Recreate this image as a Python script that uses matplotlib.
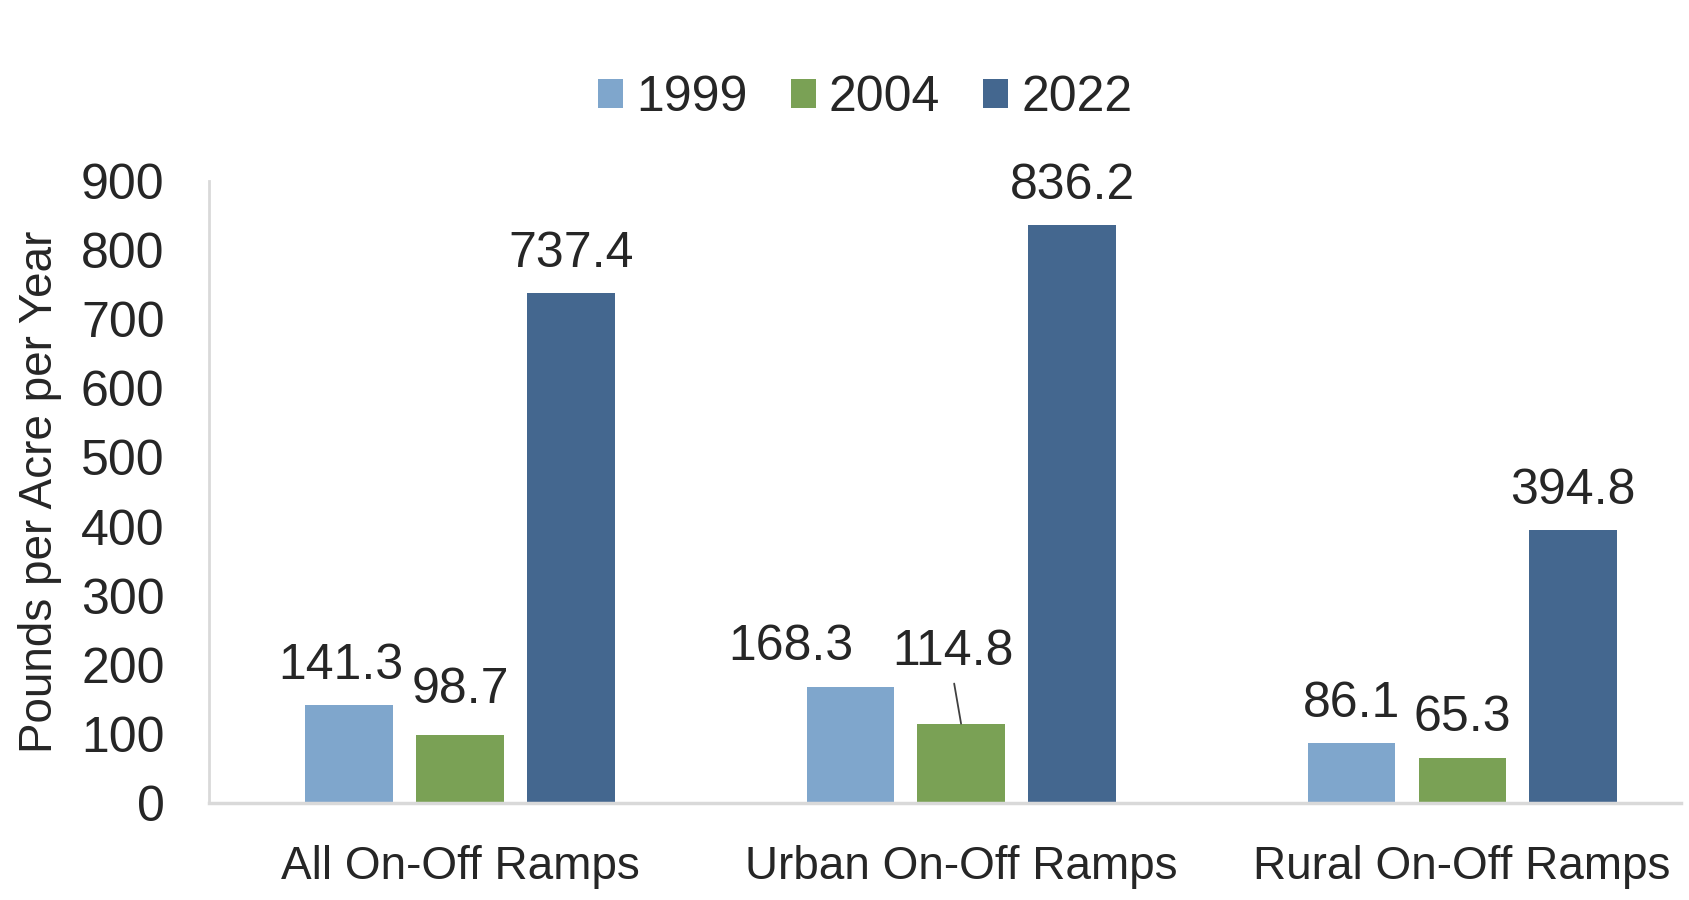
import numpy as np
import matplotlib
matplotlib.use("Agg")
import matplotlib.pyplot as plt

# data
categories = ["All On-Off Ramps", "Urban On-Off Ramps", "Rural On-Off Ramps"]
years = ["1999", "2004", "2022"]
vals_1999 = [141.3, 168.3, 86.1]
vals_2004 = [98.7, 114.8, 65.3]
vals_2022 = [737.4, 836.2, 394.8]
yticks = [0, 100, 200, 300, 400, 500, 600, 700, 800, 900]

colors = ["#7FA6CC", "#7AA155", "#44678F"]
txt = "#262626"

plt.rcParams["font.family"] = ["Liberation Sans", "DejaVu Sans"]

fig = plt.figure(figsize=(16.9, 9), dpi=100)
ax = fig.add_axes([0.1237, 0.1078, 0.871, 0.691])

x = np.arange(len(categories))
width = 0.174
step = 0.2215

# label nudges in points (dx, dy above bar top) - excel moved a few of them
nudge = {(0, 0): (-6, 19), (0, 1): (0, 23), (1, 0): (-43, 19), (1, 1): (-6, 42)}

series = [vals_1999, vals_2004, vals_2022]
for i, (vals, col, yr) in enumerate(zip(series, colors, years)):
    xs = x + (i - 1) * step
    ax.bar(xs, vals, width, color=col, label=yr, zorder=2)
    for j, v in enumerate(vals):
        dx, dy = nudge.get((j, i), (0, 19))
        if (j, i) == (1, 1):
            ax.annotate(f"{v:.1f}", xy=(xs[j], v), xytext=(dx, dy),
                        textcoords="offset points", ha="center", va="baseline",
                        fontsize=36, color=txt,
                        arrowprops=dict(arrowstyle="-", color="#404040", lw=1.3,
                                        relpos=(0.5, 0), shrinkA=4, shrinkB=0))
        else:
            ax.annotate(f"{v:.1f}", xy=(xs[j], v), xytext=(dx, dy),
                        textcoords="offset points", ha="center", va="baseline",
                        fontsize=36, color=txt)

ax.set_xlim(-0.501, 2.437)
ax.set_ylim(0, 900)
ax.set_yticks(yticks)
ax.set_xticks(x)
ax.set_xticklabels(categories, fontsize=33, color=txt)
ax.tick_params(axis="y", labelsize=36, labelcolor=txt, length=0, pad=32)
ax.tick_params(axis="x", length=0, pad=30)

for s in ["top", "right"]:
    ax.spines[s].set_visible(False)
ax.spines["left"].set_color("#D9D9D9")
ax.spines["left"].set_linewidth(2)
ax.spines["bottom"].set_color("#D9D9D9")
ax.spines["bottom"].set_linewidth(2.5)

ax.set_ylabel("Pounds per Acre per Year", fontsize=33, color=txt, va="center")
ax.yaxis.set_label_coords(-0.115, 0.5)

fig.legend(loc="center", bbox_to_anchor=(0.512, 0.891), ncol=3, frameon=False,
           fontsize=36, handlelength=0.5, handleheight=0.5, handletextpad=0.26,
           columnspacing=0.86, labelcolor=txt)

fig.savefig("out.png", dpi=100)
